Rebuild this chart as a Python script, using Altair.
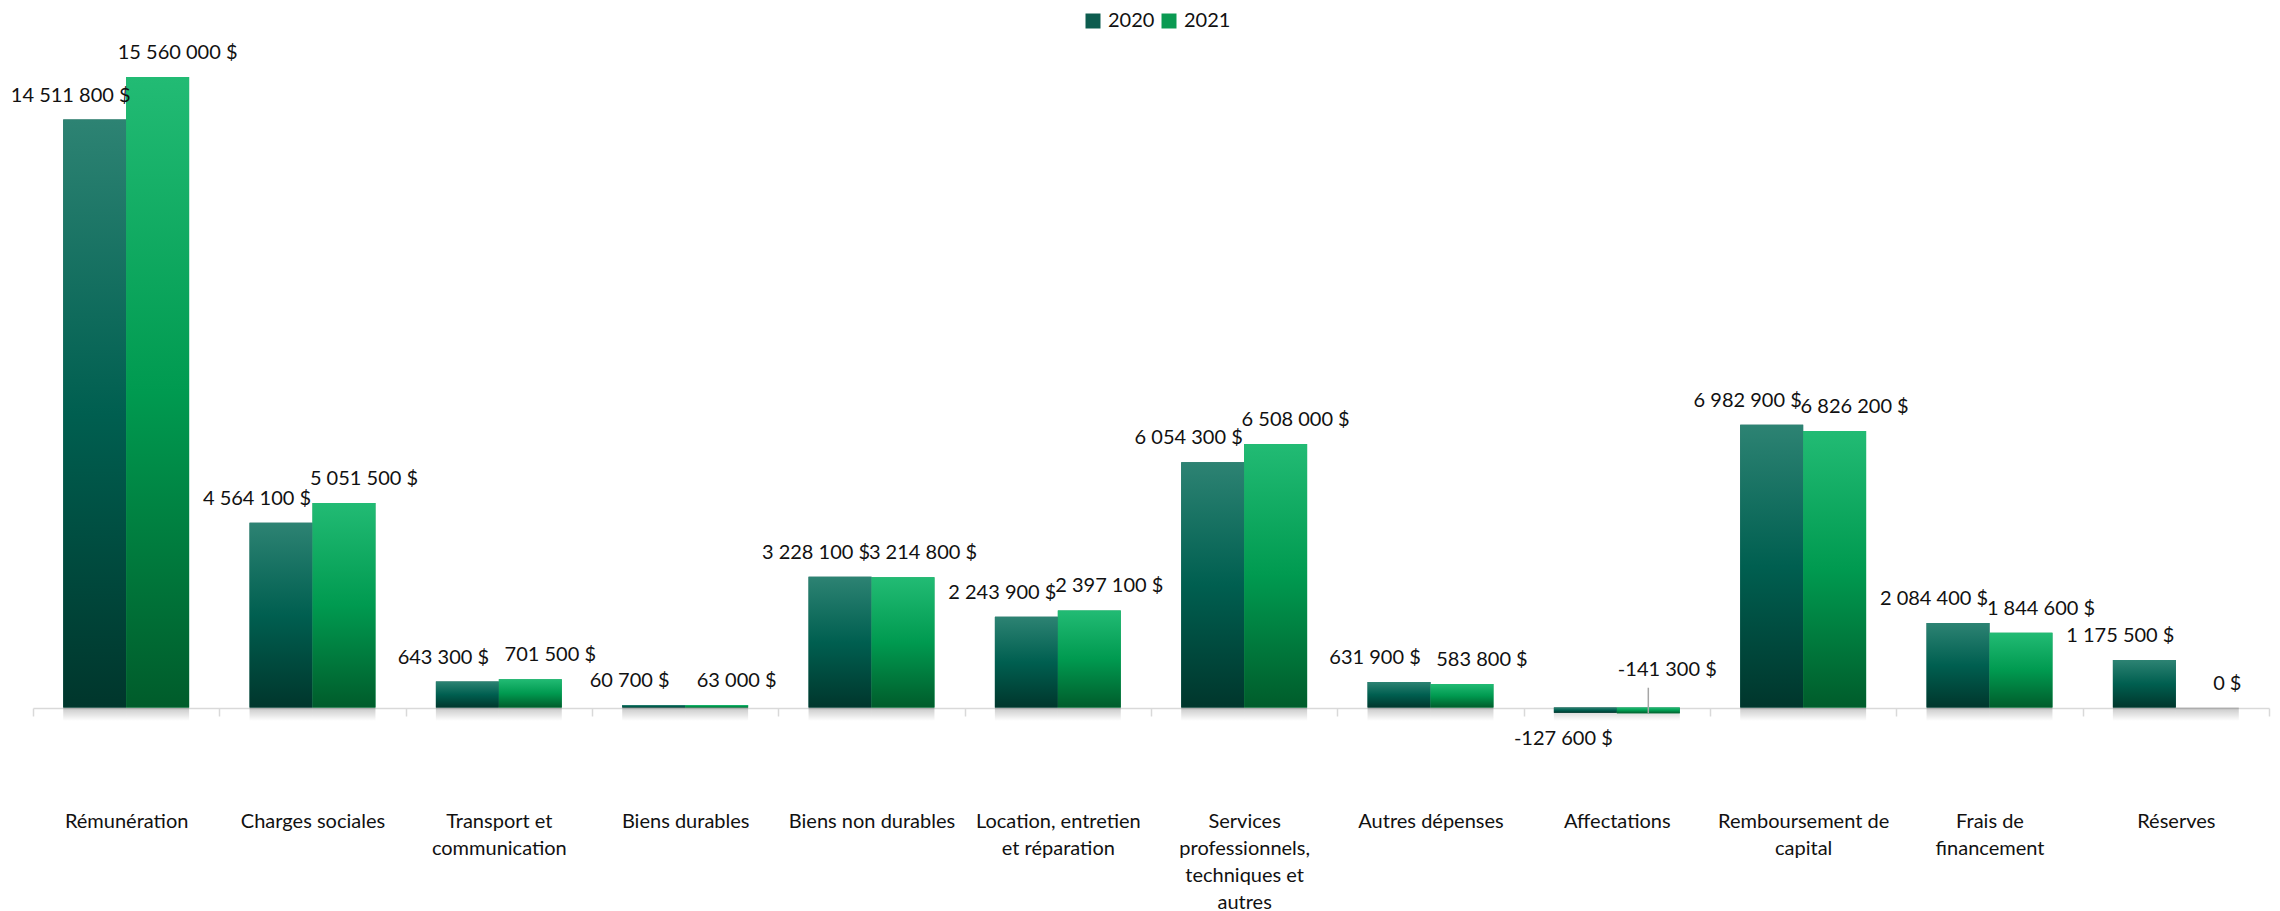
import altair as alt
import pandas as pd

categories = [
    "Rémunération",
    "Charges sociales",
    "Transport et\ncommunication",
    "Biens durables",
    "Biens non durables",
    "Location, entretien\net réparation",
    "Services\nprofessionnels,\ntechniques et\nautres",
    "Autres dépenses",
    "Affectations",
    "Remboursement de\ncapital",
    "Frais de\nfinancement",
    "Réserves",
]
values_2020 = [14511800, 4564100, 643300, 60700, 3228100, 2243900, 6054300, 631900, -127600, 6982900, 2084400, 1175500]
values_2021 = [15560000, 5051500, 701500, 63000, 3214800, 2397100, 6508000, 583800, -141300, 6826200, 1844600, 0]
series = ["2020", "2021"]


def fmt(v):
    s = f"{abs(v):,}".replace(",", " ")
    return ("-" if v < 0 else "") + s + " $"


rows = []
for c, a, b in zip(categories, values_2020, values_2021):
    rows.append({"cat": c, "serie": "2020", "value": a, "label": fmt(a)})
    rows.append({"cat": c, "serie": "2021", "value": b, "label": fmt(b)})
df = pd.DataFrame(rows)

FONT = "Lato"

x_enc = alt.X(
    "cat:N",
    sort=categories,
    scale=alt.Scale(paddingInner=0, paddingOuter=0),
    axis=alt.Axis(
        title=None,
        labelAngle=0,
        labelExpr="split(datum.label, '\\n')",
        labelFont=FONT,
        labelFontSize=20,
        labelColor="#111111",
        labelLineHeight=27,
        labelPadding=95,
        labelLimit=400,
        domainColor="#d9d9d9",
        domainWidth=1.5,
        tickColor="#d9d9d9",
        tickWidth=1.5,
        tickSize=8,
        tickBand="extent",
        offset=-32,
        grid=False,
    ),
)
xo_enc = alt.XOffset(
    "serie:N",
    sort=series,
    scale=alt.Scale(domain=series, paddingInner=0, paddingOuter=0.48),
)
y_scale = alt.Scale(domain=[-800000, 16500000], nice=False, zero=False)
y_enc = alt.Y("value:Q", scale=y_scale, axis=None)

base = alt.Chart(df)

legend_layer = base.mark_bar().encode(
    x=x_enc,
    xOffset=xo_enc,
    y=y_enc,
    color=alt.Color(
        "serie:N",
        scale=alt.Scale(domain=series, range=["#0d5c4f", "#0a9a52"]),
        legend=alt.Legend(
            title=None,
            orient="none",
            direction="horizontal",
            legendX=1050,
            legendY=-28,
            symbolType="square",
            symbolSize=225,
            symbolStrokeWidth=0,
            labelFont=FONT,
            labelFontSize=20,
            labelColor="#111111",
            labelOffset=5,
            columnPadding=4,
            padding=0,
        ),
    ),
)

shadow = base.transform_calculate(zero="0", shadow_lo="-330000").mark_bar(
    color=alt.Gradient(
        gradient="linear",
        stops=[
            alt.GradientStop(color="rgba(0,0,0,0.22)", offset=0),
            alt.GradientStop(color="rgba(0,0,0,0)", offset=1),
        ],
        x1=0, x2=0, y1=0, y2=1,
    )
).encode(
    x=x_enc,
    xOffset=xo_enc,
    y=alt.Y("zero:Q", scale=y_scale, axis=None),
    y2="shadow_lo:Q",
)

grad_2020 = alt.Gradient(
    gradient="linear",
    stops=[
        alt.GradientStop(color="#2d8373", offset=0),
        alt.GradientStop(color="#005f50", offset=0.5),
        alt.GradientStop(color="#00362c", offset=1),
    ],
    x1=0, x2=0, y1=0, y2=1,
)
grad_2021 = alt.Gradient(
    gradient="linear",
    stops=[
        alt.GradientStop(color="#22bb74", offset=0),
        alt.GradientStop(color="#009a50", offset=0.5),
        alt.GradientStop(color="#005c2b", offset=1),
    ],
    x1=0, x2=0, y1=0, y2=1,
)

bars_2020 = base.transform_filter("datum.serie == '2020'").mark_bar(color=grad_2020).encode(
    x=x_enc, xOffset=xo_enc, y=y_enc
)
bars_2021 = base.transform_filter("datum.serie == '2021'").mark_bar(color=grad_2021).encode(
    x=x_enc, xOffset=xo_enc, y=y_enc
)

text_props = dict(font=FONT, fontSize=20, color="#111111", baseline="middle", align="center")

lab_2020_pos = base.transform_filter("datum.serie == '2020' && datum.value >= 0").mark_text(
    dx=-24, dy=-24, **text_props
).encode(x=x_enc, xOffset=xo_enc, y=y_enc, text="label:N")
lab_2020_neg = base.transform_filter("datum.serie == '2020' && datum.value < 0").mark_text(
    dx=-22, dy=26, **text_props
).encode(x=x_enc, xOffset=xo_enc, y=y_enc, text="label:N")
lab_2021_pos = base.transform_filter("datum.serie == '2021' && datum.value >= 0").mark_text(
    dx=20, dy=-24, **text_props
).encode(x=x_enc, xOffset=xo_enc, y=y_enc, text="label:N")
lab_2021_neg = base.transform_filter("datum.serie == '2021' && datum.value < 0").mark_text(
    dx=19, dy=-43, **text_props
).encode(x=x_enc, xOffset=xo_enc, y=y_enc, text="label:N")
leader = (
    base.transform_filter("datum.serie == '2021' && datum.value < 0")
    .transform_calculate(anchor="490000")
    .mark_rule(color="#a6a6a6", strokeWidth=1.5)
    .encode(x=x_enc, xOffset=xo_enc, y=y_enc, y2="anchor:Q")
)

chart = (
    alt.layer(
        legend_layer, shadow, bars_2020, bars_2021, leader,
        lab_2020_pos, lab_2020_neg, lab_2021_pos, lab_2021_neg,
    )
    .properties(
        width=2236,
        height=701,
        autosize=alt.AutoSizeParams(type="none"),
        padding={"left": 25, "top": 31, "right": 3, "bottom": 175},
    )
    .configure(background="white")
    .configure_view(stroke=None, strokeWidth=0)
)

chart.save("out.html", embed_options={"renderer": "svg", "actions": False})
